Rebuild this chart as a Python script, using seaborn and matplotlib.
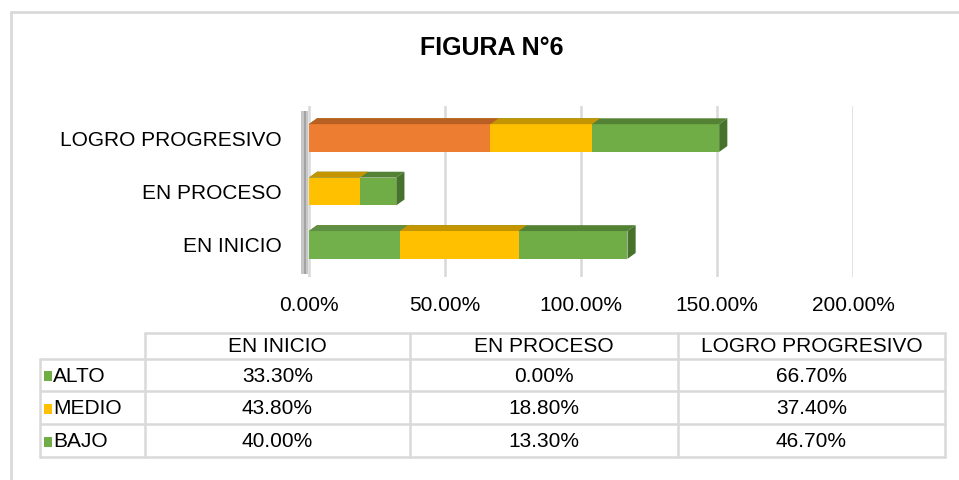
import matplotlib
matplotlib.use("Agg")
import matplotlib.pyplot as plt
from matplotlib.patches import Polygon, Rectangle
import seaborn as sns
import pandas as pd

categories = ["EN INICIO", "EN PROCESO", "LOGRO PROGRESIVO"]
series_names = ["ALTO", "MEDIO", "BAJO"]
alto = [33.3, 0.0, 66.7]
medio = [43.8, 18.8, 37.4]
bajo = [40.0, 13.3, 46.7]

# colours (front face, darker top face)
alto_colors = {"EN INICIO": "#72B04B", "EN PROCESO": "#70AD47", "LOGRO PROGRESIVO": "#ED7D31"}
alto_tops = {"EN INICIO": "#5E8F45", "EN PROCESO": "#548235", "LOGRO PROGRESIVO": "#B86024"}
medio_color, medio_top = "#FFC000", "#C49500"
bajo_color, bajo_top, bajo_side = "#70AD47", "#548235", "#46722C"
legend_colors = ["#70AD47", "#FFC000", "#70AD47"]
grid_color = "#D9D9D9"

sns.set_style("white")
plt.rcParams["font.family"] = ["Liberation Sans", "DejaVu Sans"]
plt.rcParams["text.color"] = "black"
plt.rcParams["xtick.color"] = "black"
plt.rcParams["ytick.color"] = "black"

df = pd.DataFrame({"categoria": categories, "alto": alto, "medio": medio, "bajo": bajo})
df["cum2"] = df["alto"] + df["medio"]
df["total"] = df["cum2"] + df["bajo"]
order = categories[::-1]  # top to bottom

fig = plt.figure(figsize=(9.59, 4.8), dpi=100)
bg = fig.add_axes([0, 0, 1, 1])
bg.set_xlim(0, 959)
bg.set_ylim(480, 0)
bg.axis("off")

ax = fig.add_axes([300.8 / 959, 1 - 277 / 480, 552.2 / 959, 171 / 480])

dx, dy = 3.0, 0.11  # fake 3D depth in data units


def add_faces(new_patches, top_colors, side=None):
    for p in new_patches:
        x0, w = p.get_x(), p.get_width()
        y0, h = p.get_y(), p.get_height()
        if w <= 0:
            continue
        x1, y1 = x0 + w, y0 + h
        cat = order[int(round(y0 + h / 2))]
        top = top_colors[cat] if isinstance(top_colors, dict) else top_colors
        ax.add_patch(Polygon([(x0, y0), (x1, y0), (x1 + dx, y0 - dy), (x0 + dx, y0 - dy)],
                             closed=True, facecolor=top, edgecolor="none"))
        if side:
            ax.add_patch(Polygon([(x1, y0), (x1 + dx, y0 - dy), (x1 + dx, y1 - dy), (x1, y1)],
                                 closed=True, facecolor=side, edgecolor="none"))


bar_kw = dict(order=order, orient="h", saturation=1, width=0.52, linewidth=0, edgecolor="none", ax=ax)

# stacked bars drawn as overlapping cumulative layers
n = len(ax.patches)
sns.barplot(data=df, x="total", y="categoria", color=bajo_color, **bar_kw)
add_faces(ax.patches[n:], bajo_top, side=bajo_side)

n = len(ax.patches)
sns.barplot(data=df, x="cum2", y="categoria", color=medio_color, **bar_kw)
add_faces(ax.patches[n:], medio_top)

n = len(ax.patches)
sns.barplot(data=df, x="alto", y="categoria", hue="categoria", palette=alto_colors,
            dodge=False, legend=False, **bar_kw)
add_faces(ax.patches[n:], alto_tops)

# grey "wall" at the origin
ax.axvspan(-2.8, -0.2, ymin=0.02, ymax=0.97, color="#B0B0B0", alpha=0.7, lw=0)
ax.axvspan(-2.0, -1.0, ymin=0.02, ymax=0.97, color="#808080", alpha=0.5, lw=0)

ax.set_xlim(-3, 200)
ax.set_ylim(2.6, -0.6)
ax.set_xticks([0, 50, 100, 150, 200])
ax.set_xticklabels([f"{v:.2f}%" for v in [0, 50, 100, 150, 200]])
ax.grid(axis="x", color=grid_color, linewidth=1.8)
ax.set_axisbelow(True)
for s in ax.spines.values():
    s.set_visible(False)
ax.tick_params(axis="x", length=0, pad=14, labelsize=15, labelcolor="black")
ax.tick_params(axis="y", length=0, pad=14, labelsize=15, labelcolor="black")
ax.set_xlabel("")
ax.set_ylabel("")

# title and outer frame
fig.text(492 / 959, 1 - 48 / 480, "FIGURA N°6", ha="center", va="center",
         fontsize=18, fontweight="bold", color="black")
bg.plot([11, 959], [12, 12], color=grid_color, lw=2)
bg.plot([11, 11], [12, 480], color=grid_color, lw=2)

# data table under the chart
col_edges = [40, 145, 410, 678, 945]
row_edges = [333, 359, 391, 424, 457]
tbl_kw = dict(color=grid_color, lw=1.8)
bg.plot([145, 945], [row_edges[0]] * 2, **tbl_kw)
for y in row_edges[1:]:
    bg.plot([40, 945], [y, y], **tbl_kw)
for x in col_edges[1:]:
    bg.plot([x, x], [row_edges[0], row_edges[-1]], **tbl_kw)
bg.plot([40, 40], [row_edges[1], row_edges[-1]], **tbl_kw)

for j, cat in enumerate(categories):
    cx = (col_edges[j + 1] + col_edges[j + 2]) / 2
    bg.text(cx, (row_edges[0] + row_edges[1]) / 2 + 1, cat, ha="center", va="center",
            fontsize=15, color="black")

values = [alto, medio, bajo]
for i, name in enumerate(series_names):
    cy = (row_edges[i + 1] + row_edges[i + 2]) / 2 + 1
    bg.add_patch(Rectangle((44, cy - 5), 8, 10, facecolor=legend_colors[i], edgecolor="none"))
    bg.text(53, cy, name, ha="left", va="center", fontsize=15, color="black")
    for j, v in enumerate(values[i]):
        cx = (col_edges[j + 1] + col_edges[j + 2]) / 2
        bg.text(cx, cy, f"{v:.2f}%", ha="center", va="center", fontsize=15, color="black")

fig.savefig("out.png", dpi=100)
